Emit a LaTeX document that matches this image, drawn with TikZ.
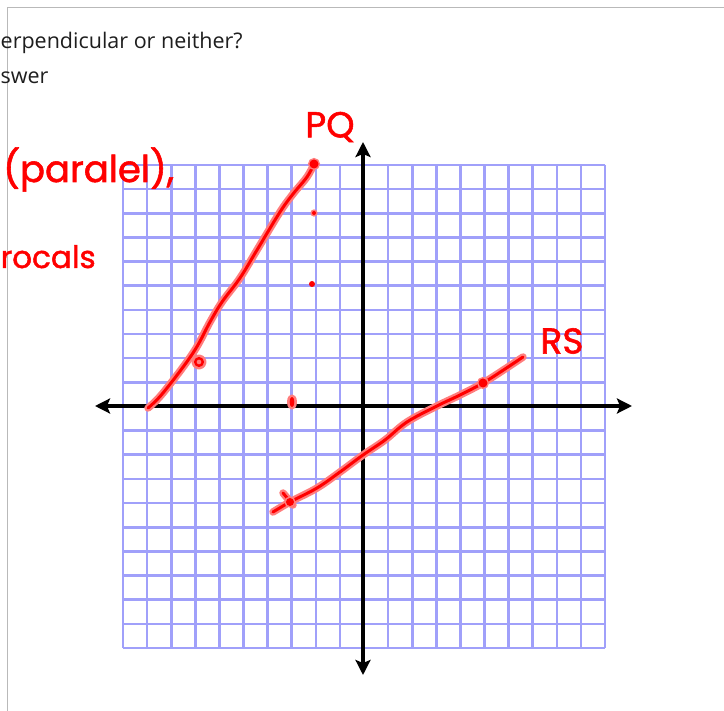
\documentclass[tikz,border=0pt]{standalone}
\usepackage{fontspec}
\setmainfont{Open Sans}
\newfontfamily\handfont[FakeBold=1.5]{Poppins}
\usetikzlibrary{arrows.meta}
\definecolor{gridblue}{RGB}{160,160,250}
\definecolor{penred}{RGB}{255,0,0}
\definecolor{penhalo}{RGB}{255,125,125}
\definecolor{framegray}{RGB}{185,185,185}
\definecolor{inktext}{RGB}{30,30,30}
\tikzset{
  gridline/.style={draw=gridblue,line width=2.6pt},
  axisline/.style={draw=black,line width=4pt,{Stealth[length=15pt,width=15pt,inset=3pt]}-{Stealth[length=15pt,width=15pt,inset=3pt]}},
  redpen/.style={preaction={draw=penhalo,line width=7.5pt,line cap=round,line join=round},draw=penred,line width=3pt,line cap=round,line join=round},
  reddot/.style={preaction={fill=penhalo,draw=penhalo,line width=3pt},fill=penred},
  hand/.style={text=penred,font=\handfont,inner sep=0pt},
  question/.style={text=inktext,font=\fontsize{21.5}{24}\selectfont,inner sep=0pt,anchor=base west},
}
\begin{document}
\begin{tikzpicture}[x=1pt,y=-1pt]
\useasboundingbox (0,0) rectangle (724,711);
\fill[white] (0,0) rectangle (724,711);
% frame
\draw[framegray,line width=1pt] (7,711) -- (7,8) -- (724,8);
% question text
\node[question] (q1) at (0.5,49) {erpendicular or neither?};
\node[question] (q2) at (0.5,84) {swer};
% grid
\foreach \i in {0,...,20}{
  \draw[gridline] (123+\i*24.1,165) -- (123+\i*24.1,648);
  \draw[gridline] (123,165+\i*24.15) -- (605,165+\i*24.15);
}
% axes
\coordinate (xl) at (95,406);
\coordinate (xr) at (632,406);
\coordinate (yt) at (363,142);
\coordinate (yb) at (363,675);
\draw[axisline] (xl) -- (xr);
\draw[axisline] (yt) -- (yb);
% line PQ
\coordinate (P) at (148,408);
\coordinate (Q) at (314,164);
\draw[redpen] plot[smooth,tension=0.6] coordinates {(148,408) (163,393) (193,353) (210,322) (222,302) (240,278) (257,250) (280,212) (293,194) (307,177) (314,164)};
\fill[reddot] (Q) circle (4.5);
\draw[redpen,line width=2.4pt] (199,362) circle (3.8);
\fill[reddot] (314,213) circle (2);
\fill[penred] (312,284) circle (3);
\draw[redpen,line width=2.2pt] (292,402) ellipse (1.2 and 3.8);
% line RS
\coordinate (R) at (273,512);
\coordinate (S) at (523,357);
\draw[redpen] plot[smooth,tension=0.6] coordinates {(273,512) (290,502) (317,488) (340,472) (363,455) (385,440) (407,422) (437,406) (460,395) (483,383) (505,369) (523,357)};
\draw[redpen] (283,493) -- (293,505);
\fill[reddot] (290,502) circle (4);
\fill[reddot] (483,383) circle (4.5);
% handwritten labels
\node[hand,font=\handfont\fontsize{36}{40}\selectfont] (pq) at (330,127) {PQ};
\node[hand,font=\handfont\fontsize{36}{40}\selectfont] (rs) at (562,341) {RS};
\node[hand,font=\handfont\fontsize{37}{40}\selectfont,anchor=base west] (par) at (3,182) {(paralel),};
\node[hand,font=\handfont\fontsize{31}{34}\selectfont,anchor=base west] (rec) at (0.5,268) {rocals};
\end{tikzpicture}
\end{document}
